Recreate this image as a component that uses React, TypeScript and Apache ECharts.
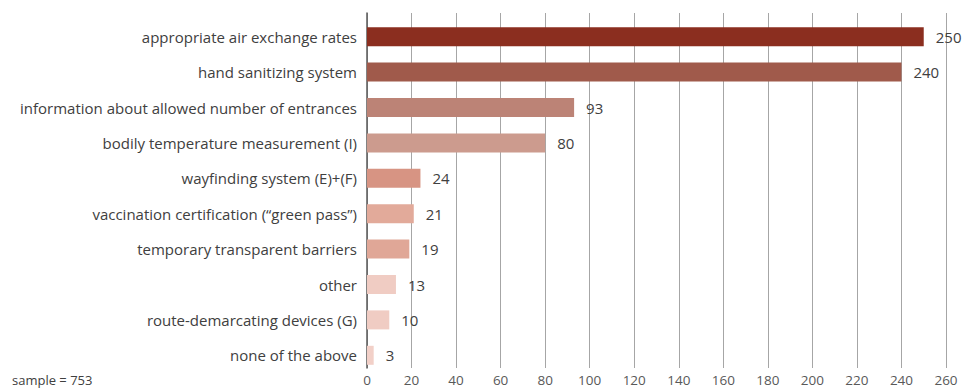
import React, { useEffect, useRef } from "react";
import * as echarts from "echarts";

const categories = [
  "appropriate air exchange rates",
  "hand sanitizing system",
  "information about allowed number of entrances",
  "bodily temperature measurement (I)",
  "wayfinding system (E)+(F)",
  "vaccination certification (“green pass”)",
  "temporary transparent barriers",
  "other",
  "route-demarcating devices (G)",
  "none of the above",
];
const values = [250, 240, 93, 80, 24, 21, 19, 13, 10, 3];
const barColors = [
  "#8B2E1F",
  "#A05A4B",
  "#BC8376",
  "#CC9B8E",
  "#D79483",
  "#E2AA9A",
  "#E0A797",
  "#F0CCC3",
  "#F0CCC3",
  "#F2D0C8",
];
const axisMax = 260;
const axisInterval = 20;
const sampleNote = "sample = 753";

const FONT = "'Open Sans', sans-serif";

export default function App() {
  const ref = useRef<HTMLDivElement>(null);
  useEffect(() => {
    if (!ref.current) return;
    const chart = echarts.init(ref.current, undefined, { renderer: "svg" });
    chart.setOption({
      animation: false,
      backgroundColor: "#ffffff",
      textStyle: { fontFamily: FONT },
      grid: [
        { left: 367, right: 17, top: 13, bottom: 20 },
        { left: 367, right: 17, top: 19, bottom: 15 },
      ],
      xAxis: [
        {
          gridIndex: 0,
          type: "value",
          min: 0,
          max: axisMax,
          interval: axisInterval,
          axisLine: { show: false },
          axisTick: { show: false },
          splitLine: { show: true, lineStyle: { color: "#A6A6A6", width: 1 } },
          axisLabel: { color: "#595959", fontSize: 13.5, margin: 5, fontFamily: FONT },
        },
        {
          gridIndex: 1,
          type: "value",
          min: 0,
          max: axisMax,
          show: false,
        },
      ],
      yAxis: [
        {
          gridIndex: 0,
          type: "value",
          min: 0,
          max: 1,
          axisLine: { show: true, lineStyle: { color: "#595959", width: 1.5 } },
          axisTick: { show: false },
          axisLabel: { show: false },
          splitLine: { show: false },
        },
        {
          gridIndex: 1,
          type: "category",
          inverse: true,
          data: categories,
          axisLine: { show: false },
          axisTick: { show: false },
          splitLine: { show: false },
          axisLabel: { color: "#404040", fontSize: 15, margin: 10, fontFamily: FONT },
        },
      ],
      series: [
        {
          type: "bar",
          xAxisIndex: 1,
          yAxisIndex: 1,
          barWidth: 19,
          data: values.map((v, i) => ({
            value: v,
            itemStyle: { color: barColors[i] },
          })),
          label: {
            show: true,
            position: "right",
            distance: 12,
            color: "#404040",
            fontSize: 15,
            fontFamily: FONT,
          },
        },
      ],
      graphic: [
        {
          type: "text",
          left: 12,
          top: 373,
          style: { text: sampleNote, fill: "#404040", fontSize: 13, fontFamily: FONT },
        },
      ],
    });
    return () => chart.dispose();
  }, []);
  return (
    <div
      ref={ref}
      style={{ position: "fixed", left: 0, top: 0, width: 963, height: 388 }}
    />
  );
}
